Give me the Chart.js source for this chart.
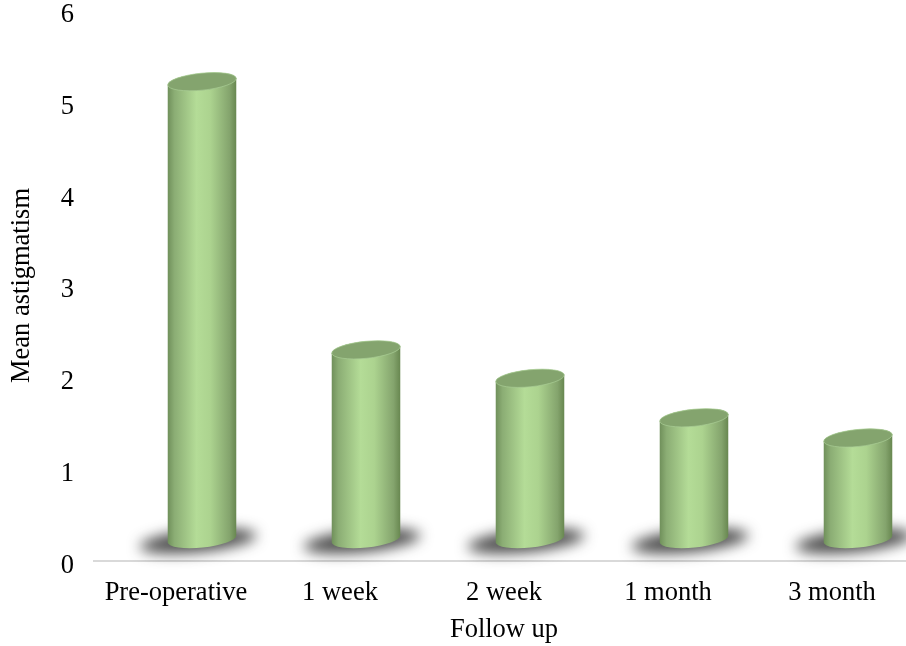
<!DOCTYPE html>
<html>
<head>
<meta charset="utf-8">
<script src="https://cdn.jsdelivr.net/npm/chart.js@4/dist/chart.umd.min.js"></script>
<style>
  html, body { margin: 0; padding: 0; background: #fff; overflow: hidden; }
  #wrap { width: 914px; height: 646px; }
</style>
</head>
<body>
<div id="wrap"><canvas id="chart"></canvas></div>
<script>
// ─── DATA ─────────────────────────────────────────────────────────────────────
const categories = ["Pre-operative", "1 week", "2 week", "1 month", "3 month"];
const meanAstigmatism = [4.98, 2.06, 1.75, 1.32, 1.10];
const yTicks = [0, 1, 2, 3, 4, 5, 6];

// ─── STYLE ────────────────────────────────────────────────────────────────────
const FONT = { family: "'Liberation Serif', 'Times New Roman', serif", size: 26.5 };
const DEPTH = 22;      // floor depth: bars sit a little behind the axis line
const SHIFT = 26;      // perspective shift of the bars to the right of the labels
const TILT = -0.1;     // ellipse tilt

function drawShadow(ctx, cx, baseY, rx) {
  ctx.save();
  ctx.filter = "blur(7px)";
  ctx.fillStyle = "rgba(30,30,30,0.8)";
  ctx.beginPath();
  ctx.ellipse(cx - 4, baseY + 2, rx + 24, 11, TILT, 0, Math.PI * 2);
  ctx.fill();
  ctx.restore();
}

function drawCylinder(ctx, cx, topY, baseY, rx) {
  const ry = 8.5;
  const grad = ctx.createLinearGradient(cx - rx, 0, cx + rx, 0);
  grad.addColorStop(0, "#6f8f5a");
  grad.addColorStop(0.1, "#8bad74");
  grad.addColorStop(0.42, "#b4dc97");
  grad.addColorStop(0.62, "#acd38f");
  grad.addColorStop(0.9, "#84a46d");
  grad.addColorStop(1, "#67864f");

  ctx.save();
  ctx.beginPath();
  ctx.ellipse(cx, baseY, rx, ry, TILT, 0, Math.PI);
  ctx.ellipse(cx, topY, rx, ry, TILT, Math.PI, Math.PI * 2);
  ctx.closePath();
  ctx.fillStyle = grad;
  ctx.fill();

  // top cap
  ctx.beginPath();
  ctx.ellipse(cx, topY, rx, ry, TILT, 0, Math.PI * 2);
  ctx.fillStyle = "#84a46e";
  ctx.fill();
  ctx.lineWidth = 1;
  ctx.strokeStyle = "rgba(170,205,150,0.7)";
  ctx.stroke();
  ctx.restore();
}

const cylinderPlugin = {
  id: "cylinders",
  afterDatasetsDraw(chart) {
    const ctx = chart.ctx;
    const bars = chart.getDatasetMeta(0).data.map(b => b.getProps(["x", "y", "base", "width"], true));
    bars.forEach(b => drawShadow(ctx, b.x + SHIFT, b.base - DEPTH, b.width / 2));
    bars.forEach(b => drawCylinder(ctx, b.x + SHIFT, b.y - DEPTH, b.base - DEPTH, b.width / 2));
  }
};

// ─── CHART ────────────────────────────────────────────────────────────────────
new Chart(document.getElementById("chart"), {
  type: "bar",
  data: {
    labels: categories,
    datasets: [{
      label: "Mean astigmatism",
      data: meanAstigmatism,
      backgroundColor: "transparent",
      borderWidth: 0,
      categoryPercentage: 1,
      barPercentage: 0.42,
    }]
  },
  options: {
    responsive: true,
    maintainAspectRatio: false,
    animation: false,
    layout: { padding: { top: 10, left: 6, right: 0, bottom: 0 } },
    plugins: {
      legend: { display: false },
      tooltip: { enabled: false },
    },
    scales: {
      x: {
        grid: { display: false, drawTicks: false },
        border: { display: true, color: "#d9d9d9", width: 2 },
        ticks: { color: "#000", font: FONT, padding: 16 },
        title: { display: true, text: "Follow up", color: "#000", font: FONT, padding: 0 },
        afterFit: s => { s.height = 85; s.paddingLeft = 0; s.paddingRight = 0; },
      },
      y: {
        min: 0, max: 6,
        grid: { display: false, drawTicks: false },
        border: { display: false },
        afterBuildTicks: s => { s.ticks = yTicks.map(v => ({ value: v })); },
        ticks: { color: "#000", font: FONT, padding: 20, labelOffset: 5 },
        title: { display: true, text: "Mean astigmatism", color: "#000", font: FONT, padding: 0 },
        afterFit: s => { s.width = 88; s.paddingTop = 0; s.paddingBottom = 0; },
      }
    }
  },
  plugins: [cylinderPlugin]
});
</script>
</body>
</html>
